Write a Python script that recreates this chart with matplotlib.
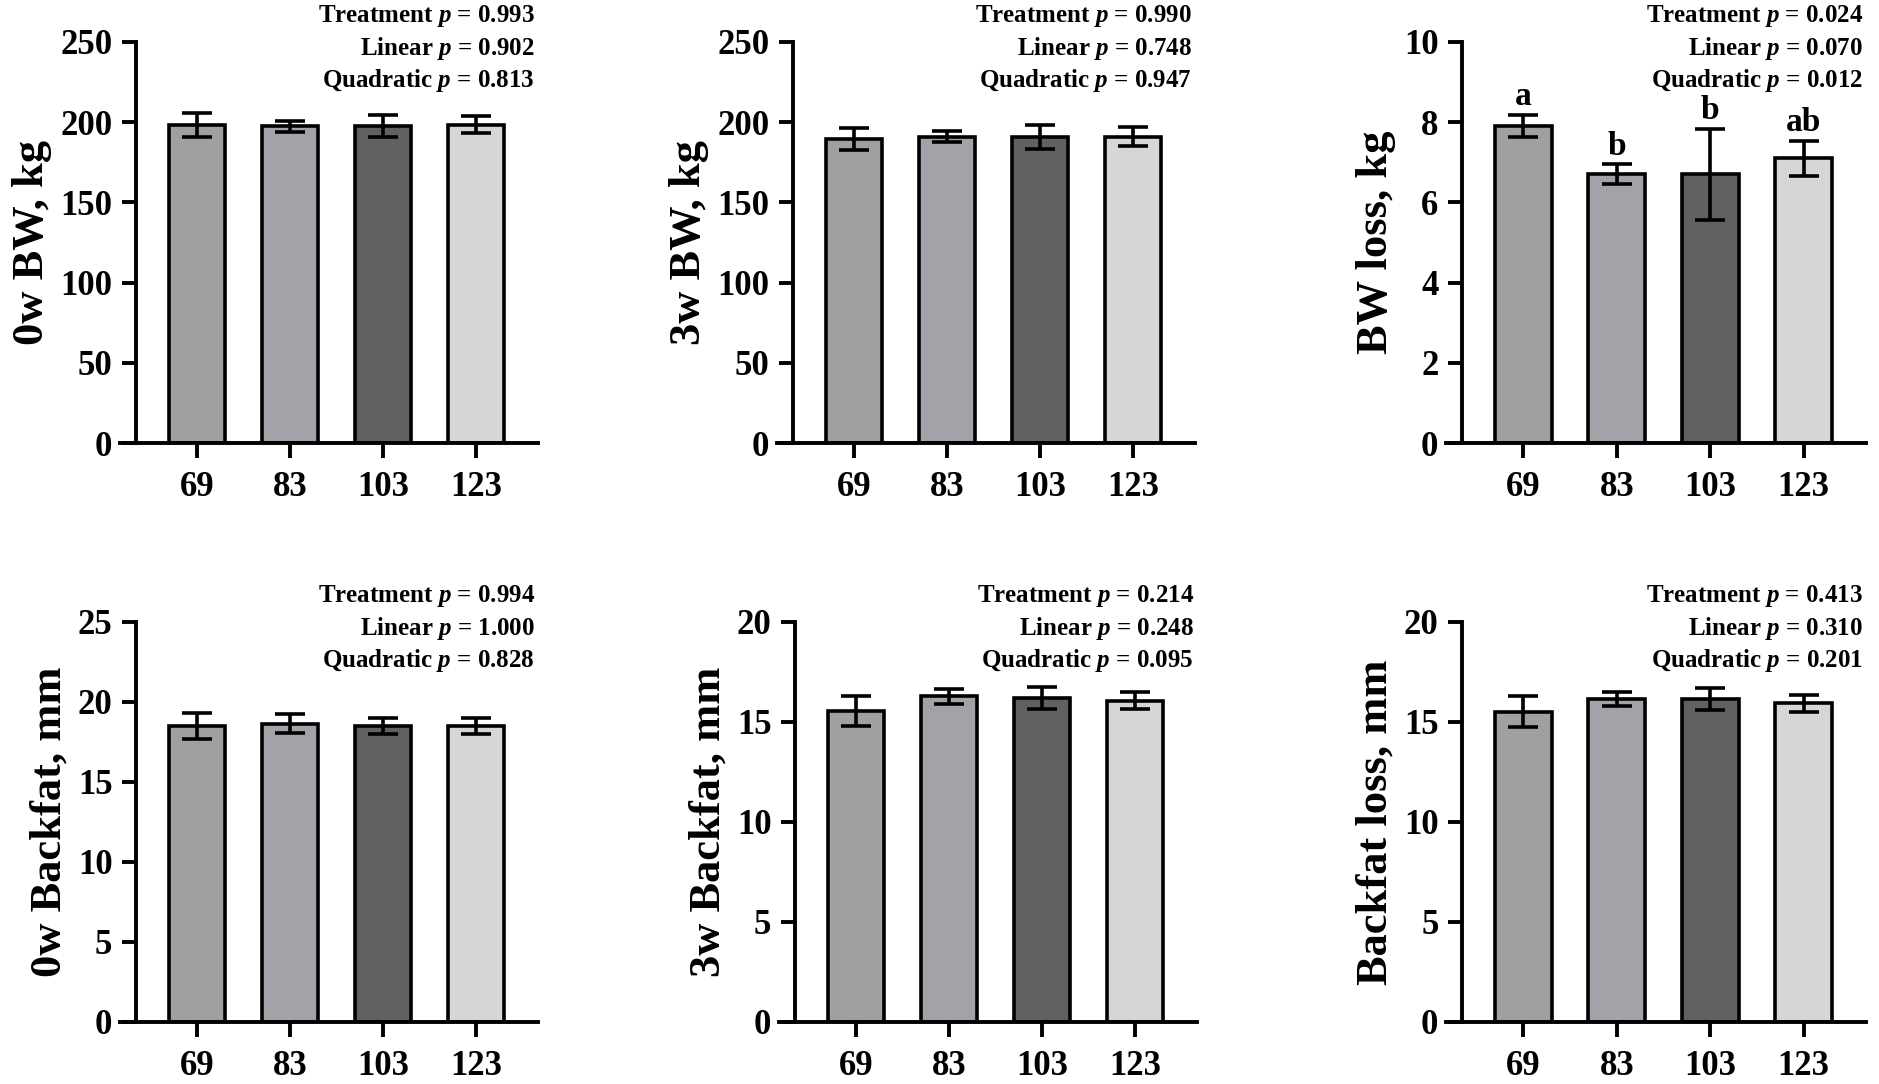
import matplotlib
matplotlib.use("Agg")
import matplotlib.pyplot as plt

plt.rcParams['font.family'] = ['Liberation Serif', 'DejaVu Serif']
plt.rcParams['font.weight'] = 'bold'
plt.rcParams['mathtext.fontset'] = 'custom'
plt.rcParams['mathtext.rm'] = 'Liberation Serif:bold'
plt.rcParams['mathtext.it'] = 'Liberation Serif:italic:bold'
plt.rcParams['mathtext.bf'] = 'Liberation Serif:bold'

categories = ["69", "83", "103", "123"]
bar_colors = ["#a0a0a0", "#a2a2a8", "#616161", "#d6d6d6"]

bw0_mean = [198, 197.5, 197.5, 198.5]
bw0_err = [7.5, 3.5, 7, 5.5]
bw3_mean = [189.5, 191, 191, 191]
bw3_err = [7, 3.3, 7.5, 5.7]
bwloss_mean = [7.9, 6.7, 6.7, 7.1]
bwloss_err = [0.28, 0.25, 1.13, 0.44]
bwloss_letters = ["a", "b", "b", "ab"]
bf0_mean = [18.5, 18.65, 18.5, 18.5]
bf0_err = [0.83, 0.6, 0.47, 0.47]
bf3_mean = [15.55, 16.28, 16.18, 16.07]
bf3_err = [0.77, 0.36, 0.55, 0.42]
bfloss_mean = [15.52, 16.15, 16.15, 15.93]
bfloss_err = [0.76, 0.36, 0.56, 0.43]

ylabels = ["0w BW, kg", "3w BW, kg", "BW loss, kg",
           "0w Backfat, mm", "3w Backfat, mm", "Backfat loss, mm"]
ylims = [250, 250, 10, 25, 20, 20]
ysteps = [50, 50, 2, 5, 5, 5]
stats = [
    ("0.993", "0.902", "0.813"),
    ("0.990", "0.748", "0.947"),
    ("0.024", "0.070", "0.012"),
    ("0.994", "1.000", "0.828"),
    ("0.214", "0.248", "0.095"),
    ("0.413", "0.310", "0.201"),
]
means = [bw0_mean, bw3_mean, bwloss_mean, bf0_mean, bf3_mean, bfloss_mean]
errs = [bw0_err, bw3_err, bwloss_err, bf0_err, bf3_err, bfloss_err]
letters = [None, None, bwloss_letters, None, None, None]

W, H = 1879, 1084
fig = plt.figure(figsize=(W / 100, H / 100), dpi=100)

# axes boxes in pixels: (left of x-axis line, top, right, bottom)
boxes = [
    (120, 42, 538, 443),
    (777, 42, 1195, 443),
    (1446, 42, 1866, 443),
    (120, 622, 538, 1022),
    (779, 622, 1197, 1022),
    (1446, 622, 1866, 1022),
]

XL, XR, XSP = -0.828, 3.667, -0.656
lw = 2.6
for i in range(6):
    l, t, r, b = boxes[i]
    ax = fig.add_axes([l / W, (H - b) / H, (r - l) / W, (b - t) / H])
    x = list(range(len(categories)))
    ax.bar(x, means[i], width=0.61, color=bar_colors, edgecolor='black',
           linewidth=lw, zorder=2)
    ax.errorbar(x, means[i], yerr=errs[i], fmt='none', ecolor='black',
                elinewidth=lw, capsize=10.5, capthick=lw, zorder=3)
    ax.set_xlim(XL, XR)
    ax.set_ylim(0, ylims[i])
    ax.set_yticks([k * ysteps[i] for k in range(int(round(ylims[i] / ysteps[i])) + 1)])
    ax.set_xticks(x)
    ax.set_xticklabels(categories)
    for s in ['top', 'right']:
        ax.spines[s].set_visible(False)
    for s in ['left', 'bottom']:
        ax.spines[s].set_linewidth(2.8)
    ax.spines['left'].set_position(('data', XSP))
    ax.spines['left'].set_bounds(0, ylims[i])
    ax.tick_params(axis='y', length=10, width=2.8, labelsize=25, pad=7)
    ax.tick_params(axis='x', length=11, width=2.8, labelsize=25, pad=9)
    for lab in ax.get_xticklabels() + ax.get_yticklabels():
        lab.set_fontweight('bold')
    ax.set_ylabel(ylabels[i], fontsize=32, fontweight='bold', labelpad=6)
    ax.patch.set_alpha(0)

    tr, li, qu = stats[i]
    lines = [r"Treatment $p$ = " + tr, r"Linear $p$ = " + li, r"Quadratic $p$ = " + qu]
    for j, txt in enumerate(lines):
        ypix = t - 26 + j * 32
        fig.text((r - 3) / W, 1 - ypix / H, txt, ha='right', va='center',
                 fontsize=18, fontweight='bold')

    if letters[i] is not None:
        for xi, (m, e, lt) in enumerate(zip(means[i], errs[i], letters[i])):
            ax.annotate(lt, (xi, m + e), xytext=(0, 7), textcoords='offset points',
                        ha='center', va='baseline', fontsize=24, fontweight='bold')

fig.savefig("out.png", dpi=100)
